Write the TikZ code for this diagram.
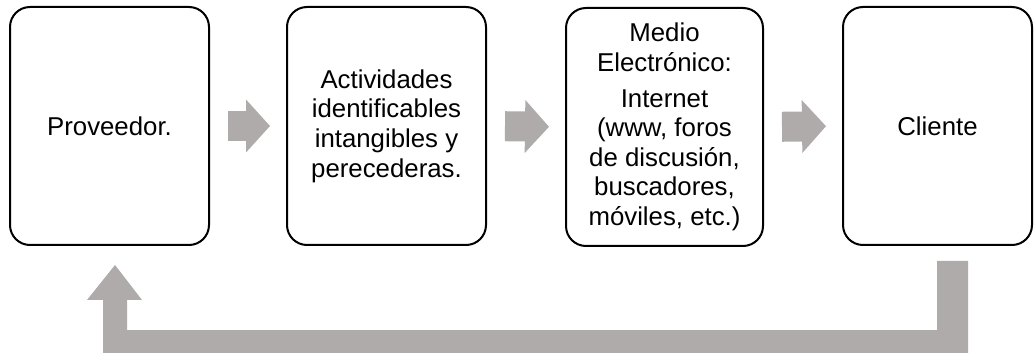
\documentclass[tikz,border=0pt]{standalone}
\usepackage{fontspec}
\setmainfont{Liberation Sans}
\usetikzlibrary{arrows.meta}
\definecolor{arrowgray}{RGB}{174,171,170}

\tikzset{
  stagebox/.style={draw=black, line width=1pt, rounded corners=10pt, fill=white,
    align=center, inner sep=2pt,
    font=\fontsize{12.9}{14.8}\selectfont},
  blockarrow/.style={draw=arrowgray, line width=15pt,
    -{Triangle[length=12pt, width=26.5pt, line width=0pt]},
    shorten <=9pt, shorten >=8pt}
}

\begin{document}
\begin{tikzpicture}[x=0.5pt, y=-0.5pt]
    \useasboundingbox (0,0) rectangle (1035,353);

    \node[stagebox, minimum width=99.5pt, minimum height=119pt] (prov) at (109.5,126)
        {Proveedor.};
    \node[stagebox, minimum width=99.5pt, minimum height=119pt] (activ) at (386.5,126)
        {Actividades\\identificables\\intangibles y\\perecederas.};
    \node[stagebox, minimum width=98.5pt, minimum height=119pt] (medio) at (664.5,127)
        {Medio\\Electrónico:\\[3pt]Internet\\(www, foros\\de discusión,\\buscadores,\\móviles, etc.)};
    \node[stagebox, minimum width=94.5pt, minimum height=119pt] (cli) at (937.5,126)
        {Cliente};

    \draw[blockarrow] (prov.east) -- (activ.west);
    \draw[blockarrow] (activ.east) -- (medio.west);
    \draw[blockarrow] (medio.east) -- (cli.west);

    % vuelta del cliente al proveedor
    \fill[arrowgray] (937,261) -- (968,261) -- (968,353) -- (103,353) -- (103,300)
        -- (87,300) -- (115,265) -- (142,300) -- (127,300) -- (127,330)
        -- (937,330) -- cycle;
\end{tikzpicture}
\end{document}
